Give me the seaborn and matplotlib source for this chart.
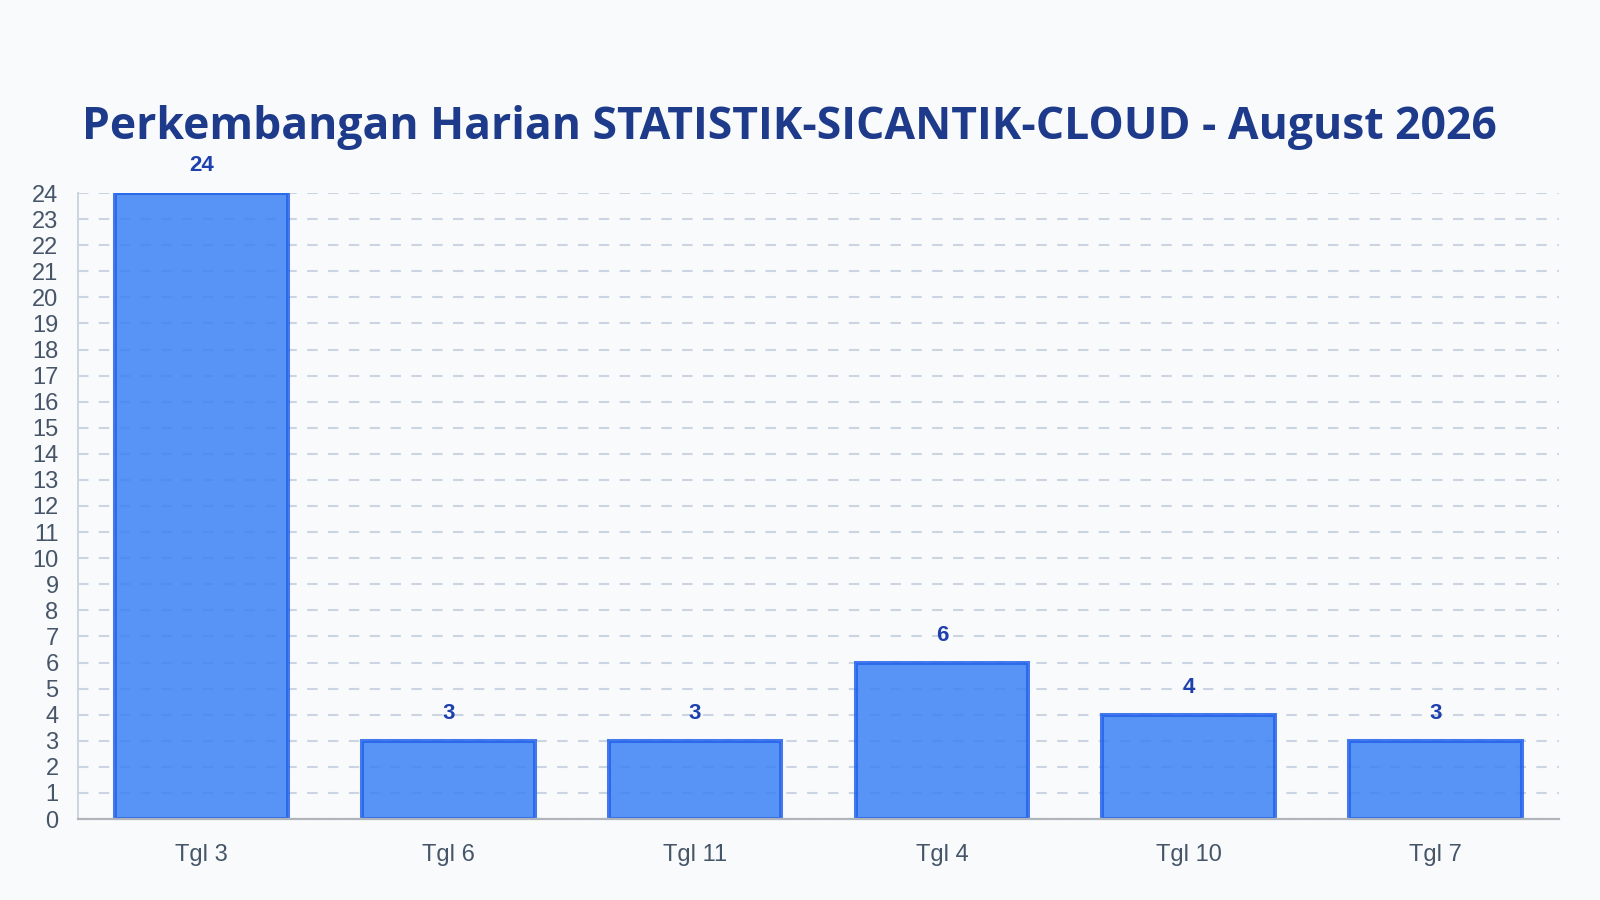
import pandas as pd
import matplotlib.pyplot as plt
import seaborn as sns

# Data
tanggal = ['Tgl 3', 'Tgl 6', 'Tgl 11', 'Tgl 4', 'Tgl 10', 'Tgl 7']
jumlah = [24, 3, 3, 6, 4, 3]
judul = 'Perkembangan Harian STATISTIK-SICANTIK-CLOUD - August 2026'

df = pd.DataFrame({'tanggal': tanggal, 'jumlah': jumlah})

sns.set_style('white')
plt.rcParams['font.family'] = ['Liberation Sans', 'DejaVu Sans']

bg = '#f8fafc'
fig = plt.figure(figsize=(16, 9), dpi=100, facecolor=bg)
ax = fig.add_axes([78 / 1600, 1 - 819 / 900, (1559 - 78) / 1600, (819 - 193) / 900])
ax.set_facecolor(bg)

sns.barplot(x='tanggal', y='jumlah', data=df, color='#3b82f6', alpha=0.85,
            saturation=1, width=0.7, edgecolor='#2563eb', linewidth=2.9, ax=ax)
for p in ax.patches:
    p.set_edgecolor('#2563eb')

ax.set_xlim(-0.5, len(tanggal) - 0.5)
ax.set_ylim(0, 24)
ax.set_yticks(range(0, 25))
ax.yaxis.grid(True, linestyle=(0, (5, 5)), color='#cbd5e1', linewidth=1.5)
ax.set_axisbelow(True)

for s in ['top', 'right']:
    ax.spines[s].set_visible(False)
ax.spines['left'].set_color('#cbd5e1')
ax.spines['left'].set_linewidth(1.4)
ax.spines['bottom'].set_color('#b0b4bb')
ax.spines['bottom'].set_linewidth(1.6)

ax.tick_params(axis='y', length=13, width=1.5, color='#cbd5e1', labelsize=17,
               labelcolor='#475569', pad=1)
ax.tick_params(axis='x', length=0, labelsize=17, labelcolor='#475569', pad=18)
ax.set_xlabel('')
ax.set_ylabel('')

# value labels above bars
for i, v in enumerate(jumlah):
    ax.annotate(str(v), (i, v), xytext=(0, 12), textcoords='offset points',
                ha='center', va='bottom', fontsize=16, fontweight='bold',
                color='#1e40af', annotation_clip=False)

fig.text(789 / 1600, 1 - 128 / 900, judul, ha='center', va='center',
         fontsize=32, fontweight='bold', color='#1e3a8a', family=['Open Sans', 'DejaVu Sans'])

plt.savefig('out.png', dpi=100, facecolor=bg)
